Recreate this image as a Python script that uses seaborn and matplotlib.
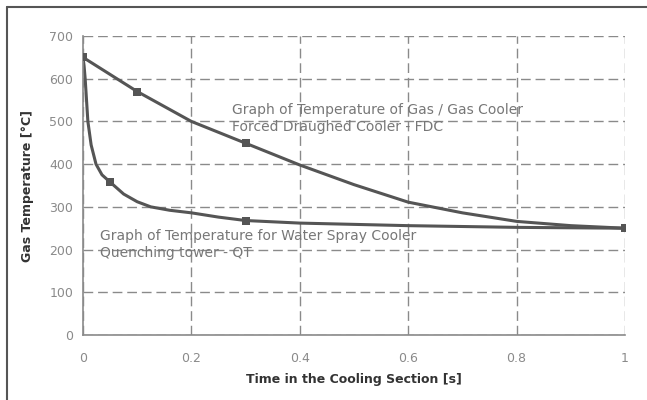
import matplotlib
matplotlib.use("Agg")
import matplotlib.pyplot as plt
from matplotlib.lines import Line2D
import seaborn as sns
import pandas as pd

# Curve readings (smoothed line as seen in picture)
fdc_t = [0, 0.1, 0.2, 0.3, 0.4, 0.5, 0.6, 0.7, 0.8, 0.9, 1.0]
fdc_temp = [650, 570, 500, 449, 398, 352, 311, 286, 266, 256, 250]
wsc_t = [0, 0.002, 0.004, 0.009, 0.015, 0.024, 0.035, 0.05, 0.075, 0.1,
         0.125, 0.16, 0.2, 0.25, 0.3, 0.4, 0.5, 0.6, 0.8, 1.0]
wsc_temp = [650, 630, 600, 500, 445, 400, 375, 358, 330, 312,
            300, 292, 286, 276, 268, 262, 259, 256, 252, 250]

# Measured points (markers)
fdc_pt_t = [0, 0.1, 0.3, 1.0]
fdc_pt_temp = [650, 570, 449, 250]
wsc_pt_t = [0, 0.05, 0.3, 1.0]
wsc_pt_temp = [650, 358, 268, 250]

x_ticks = [0, 0.2, 0.4, 0.6, 0.8, 1]
x_tick_labels = ["0", "0.2", "0.4", "0.6", "0.8", "1"]
y_ticks = [0, 100, 200, 300, 400, 500, 600, 700]

fdc_label = "Graph of Temperature of Gas / Gas Cooler\nForced Draughed Cooler - FDC"
wsc_label = "Graph of Temperature for Water Spray Cooler\nQuenching tower - QT"
x_label = "Time in the Cooling Section [s]"
y_label = "Gas Temperature [°C]"

sns.set_style("white")
plt.rcParams['font.family'] = ['DejaVu Sans']

fig = plt.figure(figsize=(6.47, 4.0), dpi=100)
ax = fig.add_axes([83/647, 65/400, 542/647, 299/400])

line_col = "#555555"
grid_col = "#8a8a8a"

df_fdc = pd.DataFrame({"t": fdc_t, "T": fdc_temp})
df_wsc = pd.DataFrame({"t": wsc_t, "T": wsc_temp})
sns.lineplot(data=df_fdc, x="t", y="T", ax=ax, color=line_col, lw=2.2, sort=False)
sns.lineplot(data=df_wsc, x="t", y="T", ax=ax, color=line_col, lw=2.2, sort=False)
sns.scatterplot(x=fdc_pt_t, y=fdc_pt_temp, ax=ax, color=line_col, marker="s", s=32,
                linewidth=0, zorder=5)
sns.scatterplot(x=wsc_pt_t, y=wsc_pt_temp, ax=ax, color=line_col, marker="s", s=32,
                linewidth=0, zorder=5)

ax.set_xlim(0, 1)
ax.set_ylim(0, 700)
ax.set_xticks(x_ticks)
ax.set_xticklabels(x_tick_labels)
ax.set_yticks(y_ticks)
ax.grid(True, color=grid_col, linestyle=(0, (7, 3.5)), linewidth=1.0)
ax.set_axisbelow(True)
for s in ["top", "right"]:
    ax.spines[s].set_visible(False)
for s in ["left", "bottom"]:
    ax.spines[s].set_color(grid_col)
    ax.spines[s].set_linewidth(1.2)
ax.tick_params(axis="both", direction="inout", length=6, width=1, color=grid_col,
               labelcolor="#8a8a8a", labelsize=9)
ax.tick_params(axis="x", pad=9)
ax.tick_params(axis="y", pad=4)

ax.set_xlabel(x_label, fontsize=9, fontweight="bold", color="#333333", labelpad=6)
ax.set_ylabel(y_label, fontsize=9, fontweight="bold", color="#333333", labelpad=11)

ax.text(0.275, 507, fdc_label, fontsize=10, color="#777777", va="center", ha="left",
        linespacing=1.2)
ax.text(0.031, 212, wsc_label, fontsize=10, color="#777777", va="center", ha="left",
        linespacing=1.2)

# outer frame (left and top edges visible)
fx = 7/647
fy = 393/400
fig.add_artist(Line2D([fx, 1.0], [fy, fy], transform=fig.transFigure, color="#555555", lw=1.5))
fig.add_artist(Line2D([fx, fx], [0, fy], transform=fig.transFigure, color="#555555", lw=1.5))

fig.savefig("out.png", dpi=100)
